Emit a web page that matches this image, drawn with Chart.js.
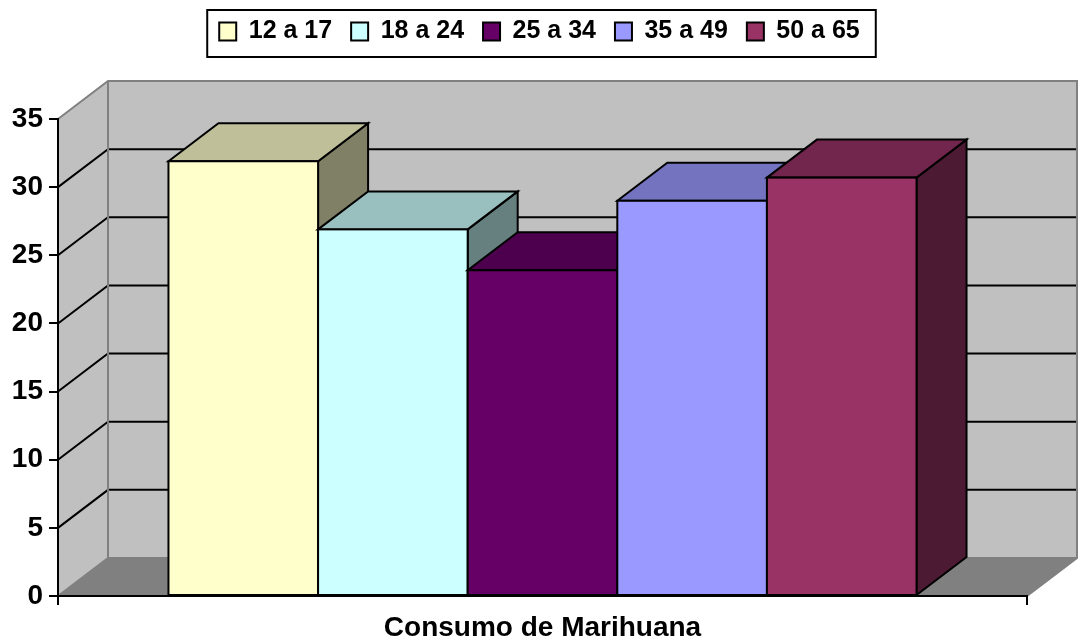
<!DOCTYPE html>
<html>
<head>
<meta charset="utf-8">
<script src="https://cdn.jsdelivr.net/npm/chart.js@4.4.1/dist/chart.umd.min.js"></script>
<style>
html, body { margin: 0; padding: 0; background: #fff; }
</style>
</head>
<body>
<canvas id="grafico" width="1079" height="643"></canvas>
<script>
const categorias = ['Consumo de Marihuana'];
const grupos = ['12 a 17', '18 a 24', '25 a 34', '35 a 49', '50 a 65'];
const valores = [31.9, 26.9, 23.9, 29.0, 30.7];
const colores = ['#FFFFCC', '#CCFFFF', '#660066', '#9999FF', '#993366'];
const ticksY = [0, 5, 10, 15, 20, 25, 30, 35];

// profundidad del efecto 3D (px)
const PX = 50, PY = -38;

function oscurecer(hex, f) {
  const n = parseInt(hex.slice(1), 16);
  const r = Math.round(((n >> 16) & 255) * f);
  const g = Math.round(((n >> 8) & 255) * f);
  const b = Math.round((n & 255) * f);
  return 'rgb(' + r + ',' + g + ',' + b + ')';
}

function poligono(ctx, pts, relleno) {
  ctx.beginPath();
  ctx.moveTo(pts[0][0], pts[0][1]);
  for (let i = 1; i < pts.length; i++) ctx.lineTo(pts[i][0], pts[i][1]);
  ctx.closePath();
  if (relleno) { ctx.fillStyle = relleno; ctx.fill(); }
}

const caja3d = {
  id: 'caja3d',
  beforeDraw(chart) {
    const ctx = chart.ctx, a = chart.chartArea, y = chart.scales.y;
    ctx.save();
    // pared del fondo, pared izquierda y piso
    ctx.fillStyle = '#c0c0c0';
    ctx.fillRect(a.left + PX, a.top + PY, a.width, a.height);
    poligono(ctx, [[a.left, a.top], [a.left + PX, a.top + PY], [a.left + PX, a.bottom + PY], [a.left, a.bottom]], '#c0c0c0');
    poligono(ctx, [[a.left, a.bottom], [a.left + PX, a.bottom + PY], [a.right + PX, a.bottom + PY], [a.right, a.bottom]], '#808080');

    // lineas de division
    ctx.strokeStyle = '#000';
    ctx.lineWidth = 2;
    y.ticks.forEach(t => {
      if (t.value === y.min || t.value === y.max) return;
      const py = y.getPixelForValue(t.value);
      ctx.beginPath();
      ctx.moveTo(a.left, py);
      ctx.lineTo(a.left + PX, py + PY);
      ctx.lineTo(a.right + PX, py + PY);
      ctx.stroke();
    });

    // bordes grises
    ctx.strokeStyle = '#808080';
    ctx.beginPath();
    ctx.moveTo(a.left, a.top);
    ctx.lineTo(a.left + PX, a.top + PY);
    ctx.lineTo(a.right + PX, a.top + PY);
    ctx.lineTo(a.right + PX, a.bottom + PY);
    ctx.lineTo(a.right, a.bottom);
    ctx.moveTo(a.left + PX, a.top + PY);
    ctx.lineTo(a.left + PX, a.bottom + PY);
    ctx.lineTo(a.right + PX, a.bottom + PY);
    ctx.moveTo(a.left, a.bottom);
    ctx.lineTo(a.left + PX, a.bottom + PY);
    ctx.stroke();
    ctx.restore();
  },
  // caras superior y lateral, de izquierda a derecha para que cada barra tape a la anterior
  afterDatasetsDraw(chart) {
    const ctx = chart.ctx;
    ctx.save();
    ctx.strokeStyle = '#000';
    ctx.lineWidth = 2;
    ctx.lineJoin = 'miter';
    for (let i = 0; i < chart.data.datasets.length; i++) {
      const bar = chart.getDatasetMeta(i).data[0];
      const p = bar.getProps(['x', 'y', 'base', 'width'], true);
      const l = p.x - p.width / 2, r = p.x + p.width / 2;
      const c = colores[i];
      poligono(ctx, [[r, p.y], [r + PX, p.y + PY], [r + PX, p.base + PY], [r, p.base]], oscurecer(c, 0.5));
      ctx.stroke();
      poligono(ctx, [[l, p.y], [l + PX, p.y + PY], [r + PX, p.y + PY], [r, p.y]], oscurecer(c, 0.75));
      ctx.stroke();
      ctx.fillStyle = bar.options.backgroundColor;
      ctx.fillRect(l, p.y, r - l, p.base - p.y);
      ctx.strokeRect(l, p.y, r - l, p.base - p.y);
    }
    ctx.restore();
  },
  afterDraw(chart) {
    const hb = chart.legend && chart.legend.legendHitBoxes;
    if (!hb || !hb.length) return;
    const ctx = chart.ctx;
    const first = hb[0], last = hb[hb.length - 1];
    const x0 = first.left - 12, x1 = last.left + last.width + 16;
    ctx.save();
    ctx.strokeStyle = '#000';
    ctx.lineWidth = 2;
    ctx.strokeRect(x0, 10, x1 - x0, 47);
    ctx.restore();
  }
};

Chart.defaults.font.family = '"Liberation Sans", Arial, sans-serif';
Chart.defaults.color = '#000';

const ctx = document.getElementById('grafico').getContext('2d');
new Chart(ctx, {
  type: 'bar',
  data: {
    labels: categorias,
    datasets: grupos.map((g, i) => ({
      label: g,
      data: [valores[i]],
      backgroundColor: colores[i],
      borderColor: '#000',
      borderWidth: 1,
      borderSkipped: false,
      categoryPercentage: 0.772,
      barPercentage: 1
    }))
  },
  options: {
    responsive: false,
    animation: false,
    events: [],
    layout: { padding: 0 },
    plugins: {
      tooltip: { enabled: false },
      title: {
        display: true,
        text: '',
        weight: 500,
        font: { size: 10 },
        padding: { top: 0, bottom: 53 }
      },
      legend: {
        position: 'top',
        labels: {
          boxWidth: 17,
          boxHeight: 18,
          padding: 19,
          color: '#000',
          font: { size: 25, weight: 'bold' },
          generateLabels(chart) {
            const items = Chart.defaults.plugins.legend.labels.generateLabels(chart);
            items.forEach(it => { it.lineWidth = 2; it.strokeStyle = '#000'; });
            return items;
          }
        }
      }
    },
    scales: {
      x: {
        grid: { drawOnChartArea: false, drawTicks: true, tickLength: 9, color: '#000', lineWidth: 2 },
        border: { display: true, color: '#000', width: 2 },
        ticks: { padding: 6, font: { size: 28, weight: 'bold' }, color: '#000' },
        afterFit(s) { s.height = 47; s.paddingRight = 52; s.paddingLeft = 0; }
      },
      y: {
        min: ticksY[0],
        max: ticksY[ticksY.length - 1],
        ticks: { stepSize: ticksY[1] - ticksY[0], padding: 6, font: { size: 28, weight: 'bold' }, color: '#000' },
        grid: { drawOnChartArea: false, drawTicks: true, tickLength: 9, color: '#000', lineWidth: 2 },
        border: { display: true, color: '#000', width: 2 },
        afterFit(s) { s.width = 58; }
      }
    }
  },
  plugins: [caja3d]
});
</script>
</body>
</html>
